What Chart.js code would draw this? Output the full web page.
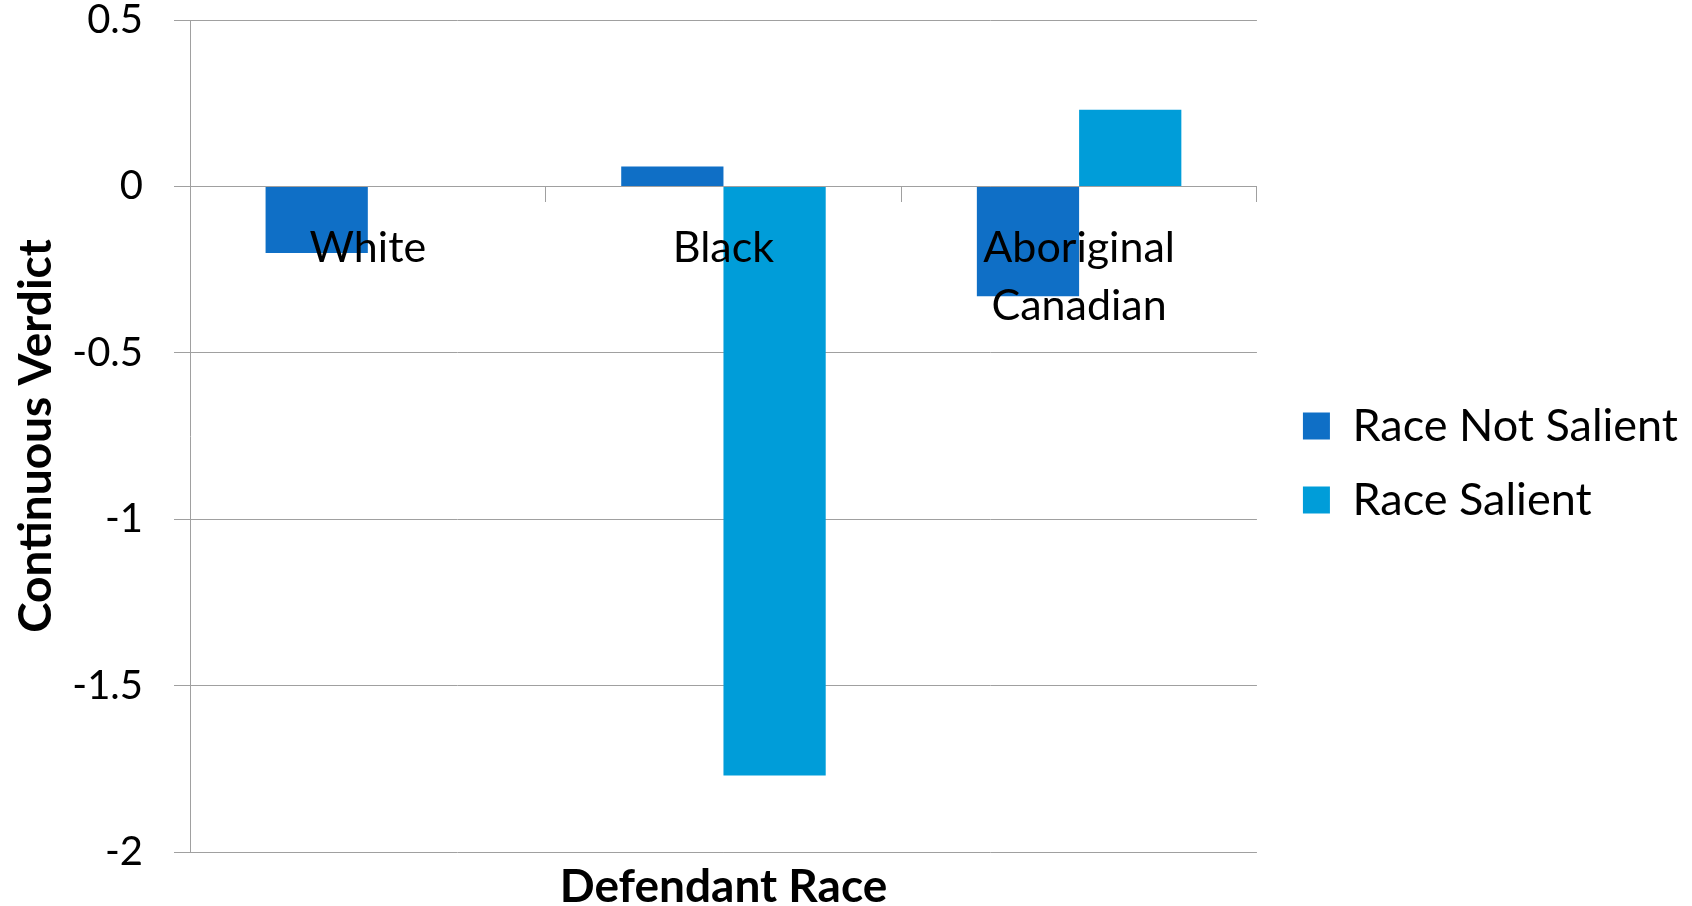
<!DOCTYPE html>
<html lang="en">
  <head>
    <title>Continuous Verdict by Defendant Race</title>
    <meta charset="utf-8" />
    <style>
      html,
      body {
        margin: 0;
        padding: 0;
        background: #ffffff;
      }
      #wrap {
        position: relative;
        width: 1692px;
        height: 906px;
      }
    </style>
  </head>
  <body>
    <div id="wrap">
      <canvas id="lienzo"></canvas>
    </div>

    <script src="https://cdn.jsdelivr.net/npm/chart.js"></script>
    <script>
      const categories = ["White", "Black", ["Aboriginal", "Canadian"]];
      const raceNotSalient = [-0.2, 0.06, -0.33];
      const raceSalient = [0, -1.77, 0.23];
      const seriesNames = ["Race Not Salient", "Race Salient"];
      const yTicks = [0.5, 0, -0.5, -1, -1.5, -2];

      const fontFamily = "Lato, 'Open Sans', sans-serif";
      const gridColor = "#a0a0a0";

      // x axis title sits under the plot, centred on the chart area
      const xTitle = {
        id: "xTitle",
        afterDraw(chart) {
          const { ctx, chartArea } = chart;
          ctx.save();
          ctx.font = "bold 46px " + fontFamily;
          ctx.fillStyle = "#000000";
          ctx.textAlign = "center";
          ctx.textBaseline = "alphabetic";
          ctx.fillText("Defendant Race", (chartArea.left + chartArea.right) / 2, 902);
          ctx.restore();
        },
      };

      // push the legend a little further from the plot than its padding allows
      const legendGap = {
        id: "legendGap",
        afterLayout(chart) {
          chart.legend.left += 17;
          chart.legend.right += 17;
        },
      };

      document.addEventListener("DOMContentLoaded", () => {
        const contexto = document.querySelector("#lienzo");
        new Chart(contexto, {
          type: "bar",
          data: {
            labels: categories,
            datasets: [
              {
                label: seriesNames[0],
                data: raceNotSalient,
                backgroundColor: "#0f6fc6",
                borderWidth: 0,
              },
              {
                label: seriesNames[1],
                data: raceSalient,
                backgroundColor: "#009dd9",
                borderWidth: 0,
              },
            ],
          },
          options: {
            responsive: true,
            maintainAspectRatio: false,
            animation: false,
            layout: {
              padding: { left: 0, right: 21, top: 20, bottom: 54 },
            },
            datasets: {
              bar: { categoryPercentage: 0.575, barPercentage: 1 },
            },
            plugins: {
              tooltip: { enabled: false },
              legend: {
                position: "right",
                align: "center",
                title: {
                  display: true,
                  text: " ",
                  font: { family: fontFamily, size: 30, lineHeight: 1 },
                  padding: 12,
                },
                labels: {
                  color: "#000000",
                  font: { family: fontFamily, size: 45 },
                  boxWidth: 27,
                  boxHeight: 27,
                  padding: 29,
                },
              },
            },
            scales: {
              x: {
                position: { y: 0 },
                grid: {
                  display: true,
                  drawOnChartArea: false,
                  drawTicks: true,
                  tickLength: 15,
                  color: gridColor,
                },
                border: { display: true, color: gridColor },
                ticks: {
                  z: 1,
                  color: "#000000",
                  padding: 18,
                  maxRotation: 0,
                  autoSkip: false,
                  font: { family: fontFamily, size: 43, lineHeight: 1.35 },
                },
              },
              y: {
                min: -2,
                max: 0.5,
                afterBuildTicks(scale) {
                  scale.ticks = yTicks.map((v) => ({ value: v }));
                },
                afterFit(scale) {
                  scale.width = 190;
                  scale.paddingTop = 0;
                  scale.paddingBottom = 0;
                },
                grid: {
                  color: gridColor,
                  tickLength: 16,
                },
                border: { display: true, color: gridColor },
                ticks: {
                  color: "#000000",
                  padding: 31,
                  font: { family: fontFamily, size: 40 },
                  callback: (v) => String(v),
                },
                title: {
                  display: true,
                  text: "Continuous Verdict",
                  color: "#000000",
                  font: { family: fontFamily, size: 46, weight: "bold" },
                  padding: { top: 9, bottom: 0 },
                },
              },
            },
          },
          plugins: [xTitle, legendGap],
        });
      });
    </script>
  </body>
</html>
